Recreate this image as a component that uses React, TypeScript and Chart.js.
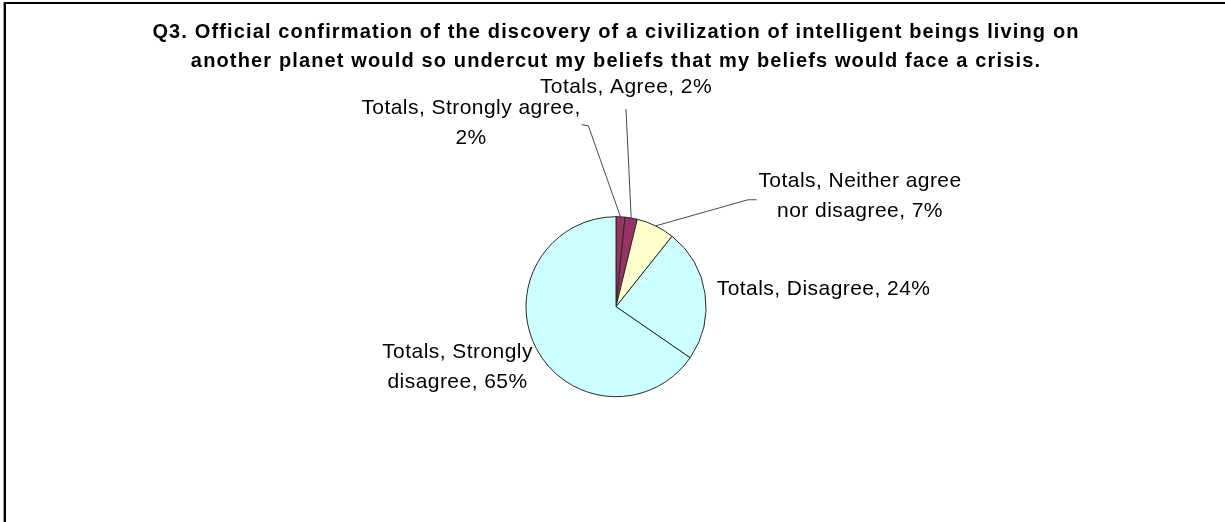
import React, { useEffect, useRef } from "react";
import { Chart, registerables } from "chart.js";

Chart.register(...registerables);

const TITLE_LINES = [
  "Q3. Official confirmation of the discovery of a civilization of intelligent beings living on",
  "another planet would so undercut my beliefs that my beliefs would face a crisis.",
];
const SERIES_NAME = "Totals";
const CATEGORIES = [
  "Strongly agree",
  "Agree",
  "Neither agree nor disagree",
  "Disagree",
  "Strongly disagree",
];
const VALUES = [1.6, 2.2, 6.9, 23.9, 65.4];
const COLORS = ["#993366", "#993366", "#FFFFCC", "#CCFFFF", "#CCFFFF"];

const FONT_FAMILY = "'Liberation Sans', Arial, Helvetica, sans-serif";
const LABEL_FONT_SIZE = 21;
const LABEL_LETTER_SPACING = "0.45px";
const TITLE_LETTER_SPACING = "1.14px";
const LABEL_LINE_HEIGHT = 30;

// Label placement relative to the slice's outer mid-point (style/layout only)
type LabelLayout = {
  text: [number, number];
  align: CanvasTextAlign;
  wrap: number;
  leader: [number, number][];
};
const LABEL_LAYOUT: LabelLayout[] = [
  { text: [-149.5, -108.6], align: "center", wrap: 230, leader: [[-32.2, -91.1], [-38.8, -92.1]] },
  { text: [-5.2, -130.3], align: "center", wrap: 320, leader: [[-5.2, -109]] },
  { text: [204.4, -45.1], align: "center", wrap: 235, leader: [[92.4, -26.1], [101.1, -26.1]] },
  { text: [11.7, -4.7], align: "left", wrap: 320, leader: [] },
  { text: [-78.8, 3.7], align: "center", wrap: 190, leader: [] },
];

function wrapText(ctx: CanvasRenderingContext2D, text: string, maxWidth: number): string[] {
  const words = text.split(" ");
  const lines: string[] = [];
  let cur = "";
  for (const w of words) {
    const test = cur ? cur + " " + w : w;
    if (cur && ctx.measureText(test).width > maxWidth) {
      lines.push(cur);
      cur = w;
    } else {
      cur = test;
    }
  }
  if (cur) lines.push(cur);
  return lines;
}

const framePlugin = {
  id: "frame",
  beforeDraw(chart: any) {
    const ctx = chart.ctx as any;
    ctx.save();
    ctx.fillStyle = "#ffffff";
    ctx.fillRect(0, 0, chart.width, chart.height);
    ctx.fillStyle = "#9a9a9a";
    ctx.fillRect(3, 2, 1, chart.height);
    ctx.fillStyle = "#000000";
    ctx.fillRect(4, 2, 2, chart.height);
    ctx.fillRect(4, 2, chart.width, 2);
    ctx.restore();
    // the title box is drawn right after this hook: widen its tracking
    ctx.letterSpacing = TITLE_LETTER_SPACING;
  },
  beforeDatasetsDraw(chart: any) {
    (chart.ctx as any).letterSpacing = "0px";
  },
};

const labelPlugin = {
  id: "pieLabels",
  afterDatasetsDraw(chart: any) {
    const ctx = chart.ctx as any;
    const meta = chart.getDatasetMeta(0);
    const data = chart.data.datasets[0].data as number[];
    const total = data.reduce((a, b) => a + b, 0);
    ctx.save();
    ctx.font = `${LABEL_FONT_SIZE}px ${FONT_FAMILY}`;
    ctx.letterSpacing = LABEL_LETTER_SPACING;
    meta.data.forEach((arc: any, i: number) => {
      const p = arc.getProps(["x", "y", "startAngle", "endAngle", "outerRadius"], true);
      const mid = (p.startAngle + p.endAngle) / 2;
      const ex = p.x + Math.cos(mid) * p.outerRadius;
      const ey = p.y + Math.sin(mid) * p.outerRadius;
      const lay = LABEL_LAYOUT[i];
      if (lay.leader.length) {
        ctx.beginPath();
        ctx.strokeStyle = "#3a5058";
        ctx.lineWidth = 1;
        ctx.moveTo(ex, ey);
        lay.leader.forEach(([dx, dy]) => ctx.lineTo(ex + dx, ey + dy));
        ctx.stroke();
      }
      const pct = Math.round((data[i] / total) * 100);
      const label = `${SERIES_NAME}, ${chart.data.labels[i]}, ${pct}%`;
      const lines = wrapText(ctx, label, lay.wrap);
      ctx.fillStyle = "#000000";
      ctx.textAlign = lay.align;
      ctx.textBaseline = "middle";
      lines.forEach((ln, k) => {
        ctx.fillText(ln, ex + lay.text[0], ey + lay.text[1] + k * LABEL_LINE_HEIGHT);
      });
    });
    ctx.restore();
    ctx.letterSpacing = "0px";
  },
};

export default function App() {
  const ref = useRef<HTMLCanvasElement | null>(null);
  useEffect(() => {
    if (!ref.current) return;
    const chart = new Chart(ref.current, {
      type: "pie",
      data: {
        labels: CATEGORIES,
        datasets: [
          {
            label: SERIES_NAME,
            data: VALUES,
            backgroundColor: COLORS,
            borderColor: "#2a2a2a",
            borderWidth: 1,
            radius: 90,
          } as any,
        ],
      },
      options: {
        responsive: false,
        animation: false,
        events: [],
        layout: { padding: { left: 7, right: 0, top: 0, bottom: 125.3 } },
        plugins: {
          legend: { display: false },
          tooltip: { enabled: false },
          title: {
            display: true,
            text: TITLE_LINES,
            color: "#000000",
            font: { family: FONT_FAMILY, size: 20, weight: "bold", lineHeight: 1.465 },
            padding: { top: 17.35, bottom: 140.75 },
          },
        },
      },
      plugins: [framePlugin, labelPlugin],
    });
    return () => chart.destroy();
  }, []);
  return (
    <div style={{ position: "absolute", left: 0, top: 0, width: 1225, height: 522 }}>
      <canvas ref={ref} width={1225} height={522} style={{ display: "block" }} />
    </div>
  );
}
